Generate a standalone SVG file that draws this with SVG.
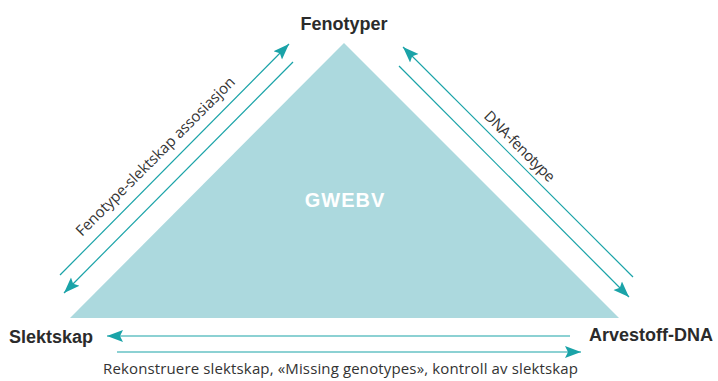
<svg xmlns="http://www.w3.org/2000/svg" width="718" height="381" viewBox="0 0 718 381">
<style>
.node{font-family:"Liberation Sans",Arial,sans-serif;font-weight:bold;font-size:18px;fill:#2b2b2b}
.lbl{font-family:"Open Sans","Liberation Sans",Arial,sans-serif;font-size:15px;fill:#333}
.conn line{stroke:#1aa3a8;stroke-width:1.2;fill:none}
</style>
<defs>
<marker id="ah" markerUnits="userSpaceOnUse" markerWidth="18" markerHeight="14" refX="16" refY="6" orient="auto" viewBox="0 0 18 12">
<path d="M0,0 L16,6 L0,12 L3,6 Z" fill="#1aa3a8"/>
</marker>
</defs>
<rect width="718" height="381" fill="#fff"/>
<g id="triangle">
<polygon points="344,43 70,318 619,318" fill="#acd9de"/>
<text x="345" y="207" text-anchor="middle" font-family="Liberation Sans,Arial,sans-serif" font-weight="bold" font-size="20" letter-spacing="1" fill="#fff">GWEBV</text>
</g>
<g id="fenotyper"><text class="node" x="344" y="30" text-anchor="middle">Fenotyper</text></g>
<g id="slektskap"><text class="node" x="9" y="343">Slektskap</text></g>
<g id="arvestoff"><text class="node" x="589" y="341">Arvestoff-DNA</text></g>
<g class="conn" id="connectors">
<line x1="60" y1="275" x2="289" y2="44" marker-end="url(#ah)"/>
<line x1="293" y1="62" x2="64" y2="293" marker-end="url(#ah)"/>
<line x1="633" y1="277" x2="403" y2="47" marker-end="url(#ah)"/>
<line x1="399" y1="66" x2="629" y2="297" marker-end="url(#ah)"/>
<line x1="570" y1="336" x2="107" y2="336" marker-end="url(#ah)"/>
<line x1="117" y1="352" x2="581" y2="352" marker-end="url(#ah)"/>
</g>
<g id="labels">
<text class="lbl" transform="translate(159,160) rotate(-45)" text-anchor="middle" textLength="218">Fenotype-slektskap assosiasjon</text>
<text class="lbl" transform="translate(516,150) rotate(45)" text-anchor="middle" textLength="93">DNA-fenotype</text>
<text class="lbl" x="340.5" y="374" text-anchor="middle" textLength="475">Rekonstruere slektskap, «Missing genotypes», kontroll av slektskap</text>
</g>
</svg>
